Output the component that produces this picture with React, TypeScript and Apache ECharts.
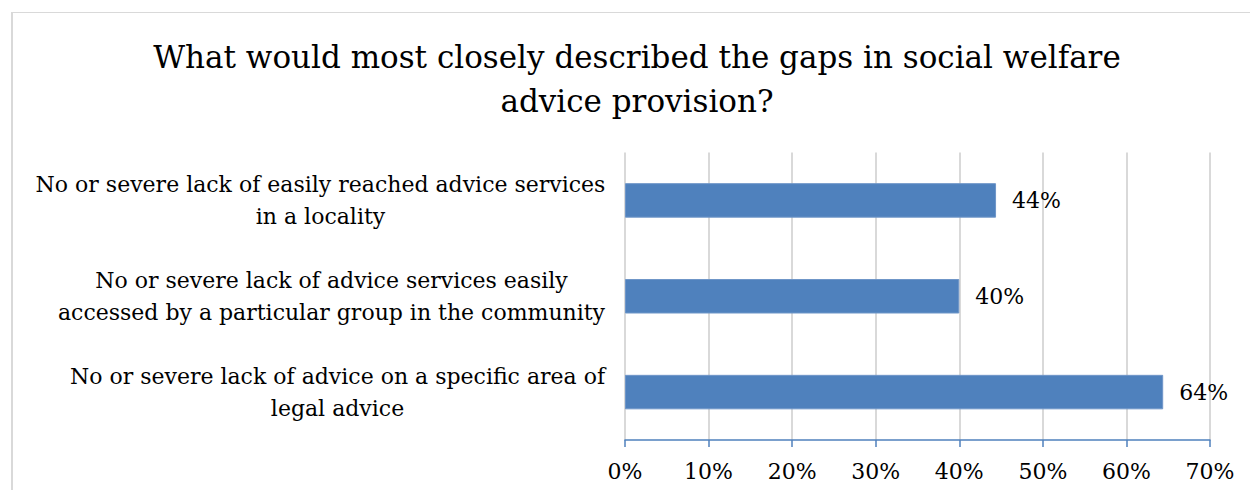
import React, { useEffect, useRef } from "react";
import * as echarts from "echarts";

const titleText = "What would most closely described the gaps in social welfare\nadvice provision?";
const categories = [
  "No or severe lack of easily reached advice services\nin a locality",
  "No or severe lack of advice services easily\naccessed by a particular group in the community",
  "No or severe lack of advice on a specific area of\nlegal advice",
];
const values = [44.4, 40.0, 64.4];
const axisMin = 0;
const axisMax = 70;
const axisInterval = 10;

const FONT = '"DejaVu Serif", serif';
const LABEL_SIZE = 22;

function measureWidth(text: string, size: number): number {
  const c = document.createElement("canvas");
  const ctx = c.getContext("2d");
  if (!ctx) return text.length * size * 0.55;
  ctx.font = `${size}px ${FONT}`;
  return Math.max(...text.split("\n").map((l) => ctx.measureText(l).width));
}

export default function App() {
  const ref = useRef<HTMLDivElement>(null);
  useEffect(() => {
    if (!ref.current) return;
    const chart = echarts.init(ref.current, null, { renderer: "svg" });
    const rich: Record<string, any> = {};
    categories.forEach((c, i) => {
      rich["c" + i] = {
        width: Math.ceil(measureWidth(c, LABEL_SIZE)) + 1,
        align: "center",
        fontSize: LABEL_SIZE,
        fontFamily: FONT,
        color: "#000",
        lineHeight: 32,
      };
    });
    chart.setOption({
      animation: false,
      backgroundColor: "#fff",
      title: {
        text: titleText,
        left: 632,
        top: 30,
        textAlign: "center",
        textStyle: {
          fontFamily: FONT,
          fontSize: 31,
          fontWeight: "normal",
          color: "#000",
          lineHeight: 44,
        },
      },
      graphic: [
        {
          type: "line",
          shape: { x1: 11, y1: 12.5, x2: 1260, y2: 12.5 },
          style: { stroke: "#d9d9d9", lineWidth: 1 },
          silent: true,
        },
        {
          type: "line",
          shape: { x1: 12, y1: 12, x2: 12, y2: 500 },
          style: { stroke: "#d9d9d9", lineWidth: 2 },
          silent: true,
        },
      ],
      grid: { left: 625, right: 40, top: 152.5, bottom: 50, containLabel: false },
      xAxis: {
        type: "value",
        min: axisMin,
        max: axisMax,
        interval: axisInterval,
        axisLine: { show: true, lineStyle: { color: "#4f81bd", width: 1.5 } },
        axisTick: { show: true, length: 7, lineStyle: { color: "#4f81bd", width: 1.5 } },
        splitLine: { show: true, lineStyle: { color: "#d9d9d9", width: 2 } },
        axisLabel: {
          formatter: "{value}%",
          fontFamily: FONT,
          fontSize: LABEL_SIZE,
          color: "#000",
          margin: 20,
        },
      },
      yAxis: {
        type: "category",
        data: categories,
        inverse: true,
        axisLine: { show: false },
        axisTick: { show: false },
        splitLine: { show: false },
        axisLabel: {
          margin: 19,
          align: "right",
          fontFamily: FONT,
          fontSize: LABEL_SIZE,
          color: "#000",
          lineHeight: 32,
          rich,
          formatter: (value: string, index: number) =>
            value
              .split("\n")
              .map((l) => `{c${index}|${l}}`)
              .join("\n"),
        },
      },
      series: [
        {
          type: "bar",
          data: values,
          barCategoryGap: "64%",
          itemStyle: { color: "#4f81bd", borderColor: "#6f96c8", borderWidth: 1 },
          label: {
            show: true,
            position: "right",
            distance: 16,
            fontFamily: FONT,
            fontSize: LABEL_SIZE,
            color: "#000",
            formatter: (p: any) => Math.round(p.value) + "%",
          },
        },
      ],
    });
    return () => chart.dispose();
  }, []);
  return (
    <div
      ref={ref}
      style={{ position: "absolute", left: 0, top: 0, width: 1250, height: 490 }}
    />
  );
}
